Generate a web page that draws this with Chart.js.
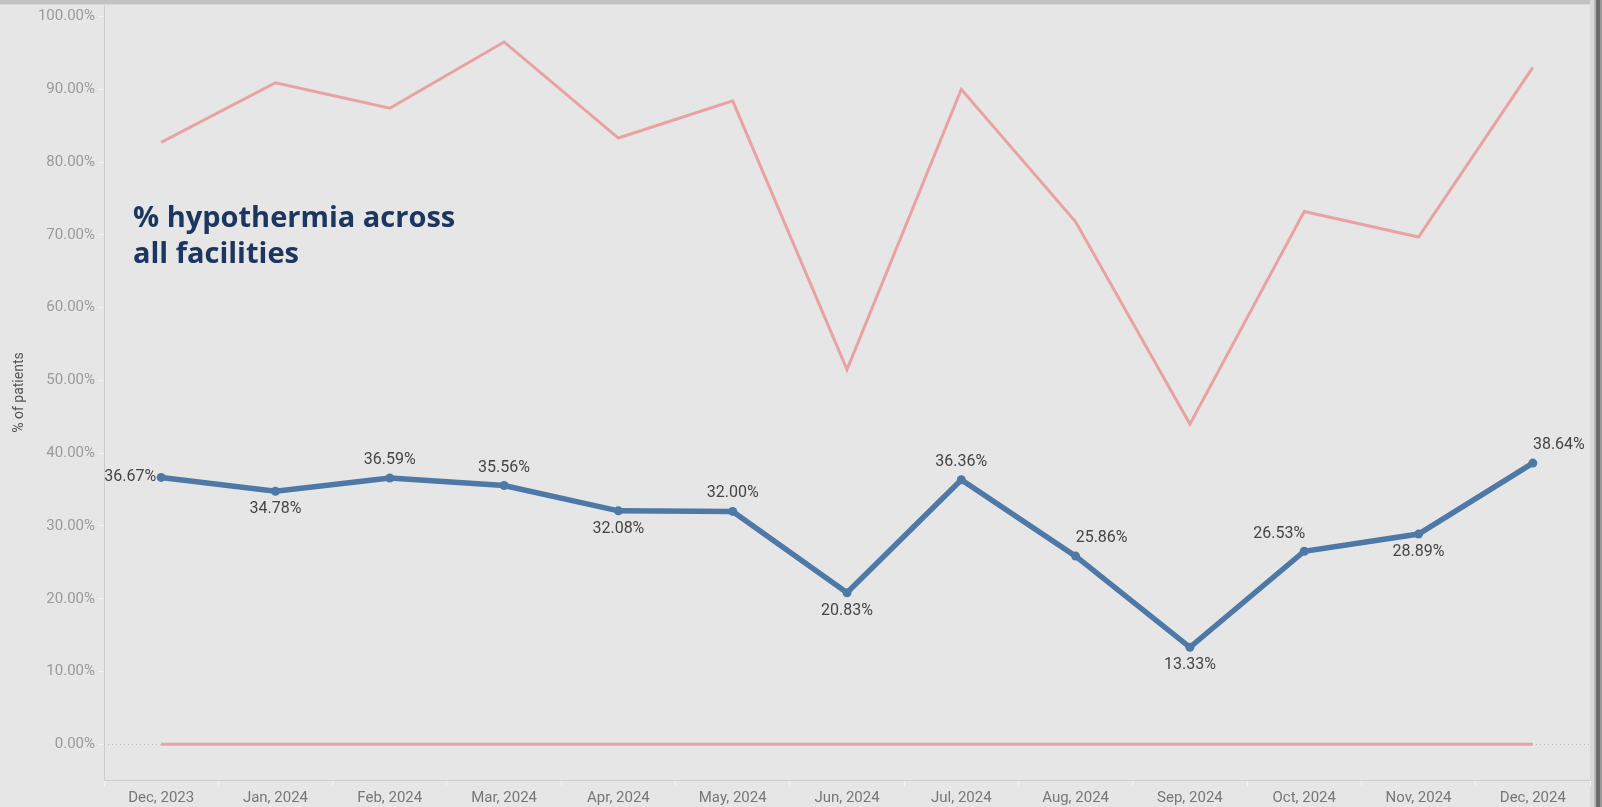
<!DOCTYPE html>
<html lang="en">
<head>
<meta charset="UTF-8">
<title>% hypothermia across all facilities</title>
<script src="https://cdn.jsdelivr.net/npm/chart.js@4.4.0/dist/chart.umd.min.js"></script>
<style>
  html, body { margin: 0; padding: 0; background: #e6e6e6; overflow: hidden; }
  canvas { display: block; }
</style>
</head>
<body>
<canvas id="chart" width="1602" height="807"></canvas>
<script>
// months shown on the x axis
var months = ['Dec, 2023', 'Jan, 2024', 'Feb, 2024', 'Mar, 2024', 'Apr, 2024', 'May, 2024',
  'Jun, 2024', 'Jul, 2024', 'Aug, 2024', 'Sep, 2024', 'Oct, 2024', 'Nov, 2024', 'Dec, 2024'];

// % hypothermia across all facilities
var hypothermiaPct = [36.67, 34.78, 36.59, 35.56, 32.08, 32.00, 20.83, 36.36, 25.86, 13.33, 26.53, 28.89, 38.64];

// second measure (pink line, unlabelled)
var otherPct = [82.7, 90.9, 87.4, 96.5, 83.3, 88.4, 51.5, 90.0, 71.8, 44.0, 73.2, 69.7, 93.0];

// flat series sitting on the zero line
var zeroPct = [0, 0, 0, 0, 0, 0, 0, 0, 0, 0, 0, 0, 0];

// y axis tick values
var yTicks = [0, 10, 20, 30, 40, 50, 60, 70, 80, 90, 100];

// where each value label goes relative to its point
var labelPlace = ['left', 'below', 'above', 'above', 'below', 'above', 'below',
  'above', 'upRight', 'below', 'upLeft', 'below', 'upRight'];

var BLUE = '#4e79a7';
var PINK = '#e9a2a2';

function pct(v) { return Number(v).toFixed(2) + '%'; }

// background, window frame and the dotted zero line
var framePlugin = {
  id: 'frame',
  beforeDraw: function(chart) {
    var c = chart.ctx, w = chart.width, h = chart.height;
    c.save();
    c.fillStyle = '#e6e6e6';
    c.fillRect(0, 0, w, h);
    c.fillStyle = '#c2c2c2';
    c.fillRect(0, 0, w, 4);
    c.fillStyle = '#d6d6d6';
    c.fillRect(0, 4, w, 1);
    c.fillStyle = '#d9d9d9';
    c.fillRect(1590, 0, 4, h);
    c.fillStyle = '#b8b8b8';
    c.fillRect(1594, 0, 2, h);
    c.fillStyle = '#6b6b6b';
    c.fillRect(1596, 0, 4, h);
    c.fillStyle = '#9a9a9a';
    c.fillRect(1600, 0, 2, h);
    c.restore();
  },
  beforeDatasetsDraw: function(chart) {
    var c = chart.ctx, a = chart.chartArea;
    var y0 = Math.round(chart.scales.y.getPixelForValue(0)) + 0.5;
    c.save();
    c.strokeStyle = '#bdbdbd';
    c.lineWidth = 1;
    c.setLineDash([1, 3]);
    c.beginPath();
    c.moveTo(a.left, y0);
    c.lineTo(a.right, y0);
    c.stroke();
    c.restore();
  }
};

// value labels on the blue line and the caption text
var labelPlugin = {
  id: 'labels',
  afterDatasetsDraw: function(chart) {
    var c = chart.ctx;
    var pts = chart.getDatasetMeta(0).data;
    c.save();
    c.font = '16px Roboto';
    c.fillStyle = '#454545';
    c.textBaseline = 'middle';
    pts.forEach(function(p, i) {
      var txt = pct(hypothermiaPct[i]);
      var x = p.x, y = p.y;
      c.textAlign = 'center';
      switch (labelPlace[i]) {
        case 'left': c.textAlign = 'right'; x -= 5; break;
        case 'below': y += 18; break;
        case 'above': y -= 18; break;
        case 'upRight': x += 26; y -= 18; break;
        case 'upLeft': x -= 25; y -= 17; break;
      }
      c.fillText(txt, x, y);
    });

    c.font = 'bold 29px "Open Sans"';
    c.fillStyle = '#1d3660';
    c.textAlign = 'left';
    c.textBaseline = 'alphabetic';
    c.fillText('% hypothermia across', 133, 227);
    c.fillText('all facilities', 133, 263);
    c.restore();
  }
};

var ctx = document.getElementById('chart').getContext('2d');

new Chart(ctx, {
  type: 'line',
  data: {
    labels: months,
    datasets: [{
      label: '% hypothermia',
      data: hypothermiaPct,
      borderColor: BLUE,
      backgroundColor: BLUE,
      borderWidth: 5.5,
      pointRadius: 4.5,
      pointBorderWidth: 0,
      pointBackgroundColor: BLUE,
      tension: 0
    }, {
      label: 'other',
      data: otherPct,
      borderColor: PINK,
      borderWidth: 3,
      pointRadius: 0,
      tension: 0
    }, {
      label: 'zero',
      data: zeroPct,
      borderColor: PINK,
      borderWidth: 3,
      pointRadius: 0,
      tension: 0
    }]
  },
  options: {
    responsive: false,
    animation: false,
    devicePixelRatio: 1,
    layout: { padding: { top: 5, right: 12, bottom: 0, left: 0 } },
    plugins: {
      legend: { display: false },
      tooltip: { enabled: false }
    },
    scales: {
      x: {
        type: 'category',
        offset: true,
        grid: {
          drawOnChartArea: false,
          offset: true,
          tickLength: 6,
          tickColor: '#f4f4f4'
        },
        border: { display: true, color: '#cdcdcd', width: 1 },
        ticks: {
          color: '#777777',
          font: { family: 'Roboto', size: 15 },
          padding: 3,
          maxRotation: 0,
          autoSkip: false
        },
        afterFit: function(scale) {
          scale.height = 27;
          scale.paddingLeft = 0;
          scale.paddingRight = 0;
        }
      },
      y: {
        min: -4.9,
        max: 101.58,
        afterBuildTicks: function(scale) {
          scale.ticks = yTicks.map(function(v) { return { value: v }; });
        },
        afterFit: function(scale) {
          scale.width = 104;
          scale.paddingTop = 0;
          scale.paddingBottom = 0;
        },
        grid: {
          drawOnChartArea: false,
          tickLength: 6,
          tickColor: '#f4f4f4'
        },
        border: { display: true, color: '#cdcdcd', width: 1 },
        ticks: {
          color: '#9a9a9a',
          font: { family: 'Roboto', size: 15 },
          padding: 3,
          callback: function(v) { return pct(v); }
        },
        title: {
          display: true,
          text: '% of patients',
          color: '#555555',
          font: { family: 'Roboto', size: 14 },
          padding: { top: 11, bottom: 0 }
        }
      }
    }
  },
  plugins: [framePlugin, labelPlugin]
});
</script>
</body>
</html>
